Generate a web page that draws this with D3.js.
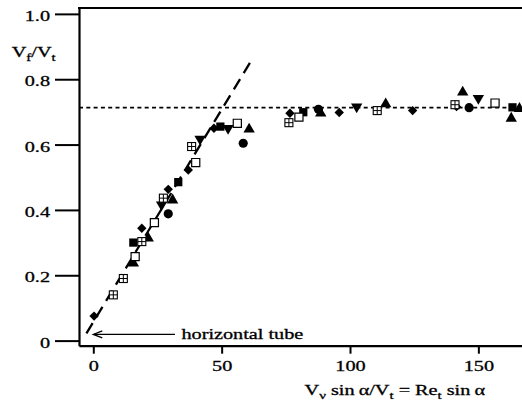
<!DOCTYPE html>
<html><head><meta charset="utf-8">
<script src="https://cdn.jsdelivr.net/npm/d3@7"></script>
<style>
html,body{margin:0;padding:0;background:#fff;}
svg{display:block;}
text{font-family:"Liberation Serif","Times New Roman",serif;fill:#000;stroke:#000;stroke-width:0.3px;}
</style></head>
<body>
<svg id="chart" width="522" height="407"></svg>
<script>
// ---- data ----
const xTicks = [0, 50, 100, 150];
const yTicks = [0, 0.2, 0.4, 0.6, 0.8, 1.0];
const yTickLabels = ["0", "0.2", "0.4", "0.6", "0.8", "1.0"];

const diamondFilledX = [0.3, 18.9, 29.2, 37, 47, 76.6, 95.8, 124.4, 141.5];
const diamondFilledY = [0.075, 0.344, 0.463, 0.522, 0.65, 0.696, 0.698, 0.704, 0.716];

const squareFilledX = [15.6, 33.1, 49.5, 81.8, 163.3];
const squareFilledY = [0.300, 0.485, 0.655, 0.699, 0.714];

const triUpX = [15.6, 21.4, 30.9, 60.7, 88.6, 113.9, 143.9, 162.8, 166];
const triUpY = [0.237, 0.313, 0.430, 0.647, 0.696, 0.724, 0.760, 0.680, 0.710];

const triDownX = [26.6, 41.6, 52.5, 102.6, 150];
const triDownY = [0.416, 0.617, 0.650, 0.716, 0.742];

const circleX = [29.2, 58.4, 87.7, 146.4];
const circleY = [0.388, 0.604, 0.708, 0.713];

const squareOpenX = [16.3, 23.8, 39.9, 56.1, 80.1, 156.5];
const squareOpenY = [0.257, 0.361, 0.545, 0.665, 0.684, 0.727];

const squareCrossX = [7.8, 11.7, 18.9, 27.3, 38.3, 76.2, 110.6, 140.9];
const squareCrossY = [0.140, 0.190, 0.303, 0.436, 0.594, 0.667, 0.704, 0.722];

const plateauValue = 0.713;           // dotted horizontal line
const slopeLineX = [-4.0, 61.0];      // dashed line end points
const slopeLineY = [0.005, 0.850];
const arrowX = [31.8, 0];             // "horizontal tube" arrow
const arrowY = [0.019, 0.019];
const annotationText = "horizontal tube";

// ---- chart ----
const svg = d3.select("#chart");
const mLeft = 79, mRight = 522, mTop = 8, mBottom = 345.7;
const x = d3.scaleLinear().domain([-5.57, 167]).range([mLeft, mRight]);
const y = d3.scaleLinear().domain([-0.0156, 1.018]).range([mBottom, mTop]);
const SX = 1.35, FS = 15;

// frame top line
svg.append("line").attr("x1", mLeft - 1).attr("x2", mRight).attr("y1", mTop).attr("y2", mTop)
  .attr("stroke", "#000").attr("stroke-width", 2.2);

// y axis
const ya = svg.append("g").attr("transform", `translate(${mLeft},0)`)
  .call(d3.axisLeft(y).tickValues(yTicks).tickSize(24).tickSizeOuter(0)
    .tickFormat((d, i) => yTickLabels[i]));
ya.select(".domain").attr("stroke-width", 2.2);
ya.selectAll(".tick line").attr("stroke-width", 2);
ya.selectAll(".tick text").attr("x", null).attr("dy", null)
  .attr("text-anchor", "end")
  .attr("font-family", "Liberation Serif, serif").attr("font-size", FS)
  .attr("transform", `translate(-29,6.5) scale(${SX},1)`);

// x axis
const xa = svg.append("g").attr("transform", `translate(0,${mBottom})`)
  .call(d3.axisBottom(x).tickValues(xTicks).tickSize(8).tickSizeOuter(0));
xa.select(".domain").attr("stroke-width", 2.2);
xa.selectAll(".tick line").attr("stroke-width", 2);
xa.selectAll(".tick text").attr("y", null).attr("dy", null)
  .attr("text-anchor", "middle")
  .attr("font-family", "Liberation Serif, serif").attr("font-size", FS)
  .attr("transform", `translate(0,25.5) scale(${SX},1)`);

// dotted plateau line
svg.append("line").attr("x1", mLeft).attr("x2", mRight)
  .attr("y1", y(plateauValue)).attr("y2", y(plateauValue))
  .attr("stroke", "#000").attr("stroke-width", 1.8).attr("stroke-dasharray", "4,3.3");

// dashed slope line
svg.append("line").attr("x1", x(slopeLineX[1])).attr("y1", y(slopeLineY[1]))
  .attr("x2", x(slopeLineX[0])).attr("y2", y(slopeLineY[0]))
  .attr("stroke", "#000").attr("stroke-width", 2.3).attr("stroke-dasharray", "12,7");

// markers
const g = svg.append("g");
function pts(xs, ys) { return xs.map((v, i) => [v, ys[i]]); }
function addSymbol(data, type, size, rot, fill, stroke, sw) {
  g.selectAll(null).data(data).enter().append("path")
    .attr("d", d3.symbol().type(type).size(size))
    .attr("transform", d => `translate(${x(d[0])},${y(d[1])}) rotate(${rot})`)
    .attr("fill", fill).attr("stroke", stroke).attr("stroke-width", sw);
}
addSymbol(pts(diamondFilledX, diamondFilledY), d3.symbolSquare, 44, 45, "#000", "none", 0);
addSymbol(pts(squareFilledX, squareFilledY), d3.symbolSquare, 68, 0, "#000", "none", 0);
addSymbol(pts(triUpX, triUpY), d3.symbolTriangle, 56, 0, "#000", "none", 0);
addSymbol(pts(triDownX, triDownY), d3.symbolTriangle, 56, 180, "#000", "none", 0);
addSymbol(pts(circleX, circleY), d3.symbolCircle, 66, 0, "#000", "none", 0);
addSymbol(pts(squareOpenX, squareOpenY), d3.symbolSquare, 66, 0, "#fff", "#000", 1.2);
// crossed (grid) squares
const cross = g.selectAll(null).data(pts(squareCrossX, squareCrossY)).enter().append("g")
  .attr("transform", d => `translate(${x(d[0])},${y(d[1])})`);
cross.append("rect").attr("x", -4).attr("y", -4).attr("width", 8).attr("height", 8)
  .attr("fill", "#fff").attr("stroke", "#000").attr("stroke-width", 1.1);
cross.append("path").attr("d", "M-4,0H4M0,-4V4").attr("stroke", "#000").attr("stroke-width", 1);

// annotation arrow
const ax0 = x(arrowX[0]), ax1 = x(arrowX[1]), ay = y(arrowY[0]);
svg.append("line").attr("x1", ax0).attr("x2", ax1 + 1).attr("y1", ay).attr("y2", ay)
  .attr("stroke", "#000").attr("stroke-width", 1.3);
svg.append("path").attr("d", `M${ax1 + 9},${ay - 3.5}L${ax1},${ay}L${ax1 + 9},${ay + 3.5}`)
  .attr("fill", "none").attr("stroke", "#000").attr("stroke-width", 1.3);
svg.append("text").attr("transform", `translate(${ax0 + 6.5},${ay + 5}) scale(${SX},1)`)
  .attr("font-size", FS).text(annotationText);

// y label V_f/V_t
const yl = svg.append("text").attr("transform", `translate(11.7,57) scale(${SX},1)`)
  .attr("font-size", FS);
yl.append("tspan").text("V");
yl.append("tspan").attr("font-size", 11).attr("dy", 4).text("f");
yl.append("tspan").attr("dy", -4).text("/V");
yl.append("tspan").attr("font-size", 11).attr("dy", 4).text("t");

// x label
const xl = svg.append("text").attr("transform", `translate(485,395) scale(${SX},1)`)
  .attr("font-size", FS).attr("text-anchor", "end");
xl.append("tspan").text("V");
xl.append("tspan").attr("font-size", 11).attr("dy", 4).text("ν");
xl.append("tspan").attr("dy", -4).text(" sin\u2009α/V");
xl.append("tspan").attr("font-size", 11).attr("dy", 4).text("t");
xl.append("tspan").attr("dy", -4).text(" = Re");
xl.append("tspan").attr("font-size", 11).attr("dy", 4).text("t");
xl.append("tspan").attr("dy", -4).text(" sin\u2009α");
</script>
</body></html>
